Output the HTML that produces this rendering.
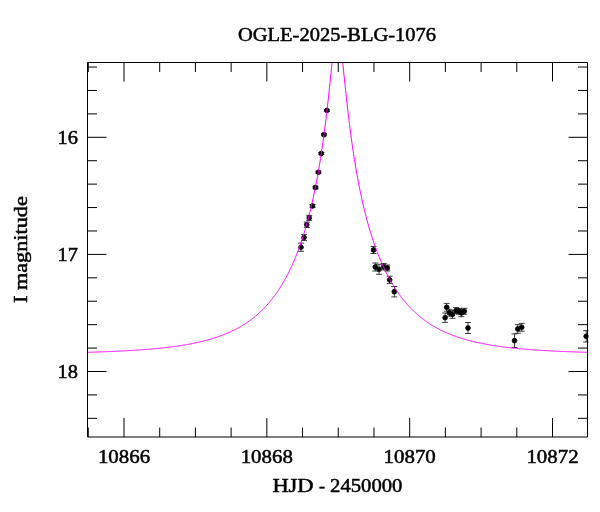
<!DOCTYPE html>
<html><head><meta charset="utf-8"><title>OGLE-2025-BLG-1076</title>
<style>
html,body{margin:0;padding:0;background:#fff;}
svg{display:block;will-change:transform;}
text{font-family:"Liberation Serif",serif;font-size:19.4px;fill:#000;stroke:#000;stroke-width:0.5px;}
</style></head><body>
<svg width="600" height="512" viewBox="0 0 600 512">
<rect width="600" height="512" fill="#fff"/>
<defs><clipPath id="c"><rect x="87.5" y="62.5" width="501.0" height="374.5"/></clipPath></defs>
<g clip-path="url(#c)">
<g stroke="#000" stroke-width="0.75" fill="#000">
<path d="M326.9,109.4V111.4M323.9,109.4h6M323.9,111.4h6"/><circle cx="326.9" cy="110.4" r="2.4"/>
<path d="M324.0,133.7V135.7M321.0,133.7h6M321.0,135.7h6"/><circle cx="324.0" cy="134.7" r="2.4"/>
<path d="M321.3,152.5V154.5M318.3,152.5h6M318.3,154.5h6"/><circle cx="321.3" cy="153.5" r="2.4"/>
<path d="M318.4,171.1V173.5M315.4,171.1h6M315.4,173.5h6"/><circle cx="318.4" cy="172.3" r="2.4"/>
<path d="M315.5,186.3V188.7M312.5,186.3h6M312.5,188.7h6"/><circle cx="315.5" cy="187.5" r="2.4"/>
<path d="M312.5,204.5V207.5M309.5,204.5h6M309.5,207.5h6"/><circle cx="312.5" cy="206.0" r="2.4"/>
<path d="M309.2,215.3V220.3M306.2,215.3h6M306.2,220.3h6"/><circle cx="309.2" cy="217.8" r="2.4"/>
<path d="M306.8,222.1V227.5M303.8,222.1h6M303.8,227.5h6"/><circle cx="306.8" cy="224.8" r="2.4"/>
<path d="M304.0,234.4V240.6M301.0,234.4h6M301.0,240.6h6"/><circle cx="304.0" cy="237.5" r="2.4"/>
<path d="M301.0,243.1V251.3M298.0,243.1h6M298.0,251.3h6"/><circle cx="301.0" cy="247.2" r="2.4"/>
<path d="M373.5,246.5V253.5M370.5,246.5h6M370.5,253.5h6"/><circle cx="373.5" cy="250.0" r="2.4"/>
<path d="M375.3,263.0V271.0M372.3,263.0h6M372.3,271.0h6"/><circle cx="375.3" cy="267.0" r="2.4"/>
<path d="M379.0,264.3V274.3M376.0,264.3h6M376.0,274.3h6"/><circle cx="379.0" cy="269.3" r="2.4"/>
<path d="M383.7,263.5V269.9M380.7,263.5h6M380.7,269.9h6"/><circle cx="383.7" cy="266.7" r="2.4"/>
<path d="M387.3,265.0V271.0M384.3,265.0h6M384.3,271.0h6"/><circle cx="387.3" cy="268.0" r="2.4"/>
<path d="M389.7,276.2V283.6M386.7,276.2h6M386.7,283.6h6"/><circle cx="389.7" cy="279.9" r="2.4"/>
<path d="M394.3,286.5V296.9M391.3,286.5h6M391.3,296.9h6"/><circle cx="394.3" cy="291.7" r="2.4"/>
<path d="M446.7,303.4V311.2M443.7,303.4h6M443.7,311.2h6"/><circle cx="446.7" cy="307.3" r="2.4"/>
<path d="M445.1,313.0V322.4M442.1,313.0h6M442.1,322.4h6"/><circle cx="445.1" cy="317.7" r="2.4"/>
<path d="M449.3,309.2V316.2M446.3,309.2h6M446.3,316.2h6"/><circle cx="449.3" cy="312.7" r="2.4"/>
<path d="M452.5,310.3V318.3M449.5,310.3h6M449.5,318.3h6"/><circle cx="452.5" cy="314.3" r="2.4"/>
<path d="M456.0,307.6V313.6M453.0,307.6h6M453.0,313.6h6"/><circle cx="456.0" cy="310.6" r="2.4"/>
<path d="M459.0,308.3V314.3M456.0,308.3h6M456.0,314.3h6"/><circle cx="459.0" cy="311.3" r="2.4"/>
<path d="M461.3,309.3V316.7M458.3,309.3h6M458.3,316.7h6"/><circle cx="461.3" cy="313.0" r="2.4"/>
<path d="M464.3,308.3V314.3M461.3,308.3h6M461.3,314.3h6"/><circle cx="464.3" cy="311.3" r="2.4"/>
<path d="M468.0,322.5V333.5M465.0,322.5h6M465.0,333.5h6"/><circle cx="468.0" cy="328.0" r="2.4"/>
<path d="M514.5,333.9V347.5M511.5,333.9h6M511.5,347.5h6"/><circle cx="514.5" cy="340.7" r="2.4"/>
<path d="M517.8,324.7V333.3M514.8,324.7h6M514.8,333.3h6"/><circle cx="517.8" cy="329.0" r="2.4"/>
<path d="M521.7,323.4V331.2M518.7,323.4h6M518.7,331.2h6"/><circle cx="521.7" cy="327.3" r="2.4"/>
<path d="M586.2,330.6V342.0M583.2,330.6h6M583.2,342.0h6"/><circle cx="586.2" cy="336.3" r="2.4"/>
</g>
<path d="M87.5,352.3 L88.0,352.3 L88.5,352.3 L89.0,352.3 L89.5,352.3 L90.0,352.2 L90.5,352.2 L91.0,352.2 L91.5,352.2 L92.0,352.2 L92.5,352.2 L93.0,352.2 L93.5,352.1 L94.0,352.1 L94.5,352.1 L95.0,352.1 L95.5,352.1 L96.0,352.1 L96.5,352.0 L97.0,352.0 L97.5,352.0 L98.0,352.0 L98.5,352.0 L99.0,352.0 L99.5,351.9 L100.0,351.9 L100.5,351.9 L101.0,351.9 L101.5,351.9 L102.0,351.9 L102.5,351.8 L103.0,351.8 L103.5,351.8 L104.0,351.8 L104.5,351.8 L105.0,351.7 L105.5,351.7 L106.0,351.7 L106.5,351.7 L107.0,351.7 L107.5,351.6 L108.0,351.6 L108.5,351.6 L109.0,351.6 L109.5,351.6 L110.0,351.5 L110.5,351.5 L111.0,351.5 L111.5,351.5 L112.0,351.5 L112.5,351.4 L113.0,351.4 L113.5,351.4 L114.0,351.4 L114.5,351.3 L115.0,351.3 L115.5,351.3 L116.0,351.3 L116.5,351.3 L117.0,351.2 L117.5,351.2 L118.0,351.2 L118.5,351.2 L119.0,351.1 L119.5,351.1 L120.0,351.1 L120.5,351.1 L121.0,351.0 L121.5,351.0 L122.0,351.0 L122.5,351.0 L123.0,350.9 L123.5,350.9 L124.0,350.9 L124.5,350.9 L125.0,350.8 L125.5,350.8 L126.0,350.8 L126.5,350.8 L127.0,350.7 L127.5,350.7 L128.0,350.7 L128.5,350.6 L129.0,350.6 L129.5,350.6 L130.0,350.6 L130.5,350.5 L131.0,350.5 L131.5,350.5 L132.0,350.4 L132.5,350.4 L133.0,350.4 L133.5,350.3 L134.0,350.3 L134.5,350.3 L135.0,350.2 L135.5,350.2 L136.0,350.2 L136.5,350.1 L137.0,350.1 L137.5,350.1 L138.0,350.0 L138.5,350.0 L139.0,350.0 L139.5,349.9 L140.0,349.9 L140.5,349.9 L141.0,349.8 L141.5,349.8 L142.0,349.8 L142.5,349.7 L143.0,349.7 L143.5,349.7 L144.0,349.6 L144.5,349.6 L145.0,349.5 L145.5,349.5 L146.0,349.5 L146.5,349.4 L147.0,349.4 L147.5,349.3 L148.0,349.3 L148.5,349.3 L149.0,349.2 L149.5,349.2 L150.0,349.1 L150.5,349.1 L151.0,349.1 L151.5,349.0 L152.0,349.0 L152.5,348.9 L153.0,348.9 L153.5,348.8 L154.0,348.8 L154.5,348.7 L155.0,348.7 L155.5,348.6 L156.0,348.6 L156.5,348.6 L157.0,348.5 L157.5,348.5 L158.0,348.4 L158.5,348.4 L159.0,348.3 L159.5,348.3 L160.0,348.2 L160.5,348.2 L161.0,348.1 L161.5,348.0 L162.0,348.0 L162.5,347.9 L163.0,347.9 L163.5,347.8 L164.0,347.8 L164.5,347.7 L165.0,347.7 L165.5,347.6 L166.0,347.5 L166.5,347.5 L167.0,347.4 L167.5,347.4 L168.0,347.3 L168.5,347.3 L169.0,347.2 L169.5,347.1 L170.0,347.1 L170.5,347.0 L171.0,346.9 L171.5,346.9 L172.0,346.8 L172.5,346.7 L173.0,346.7 L173.5,346.6 L174.0,346.5 L174.5,346.5 L175.0,346.4 L175.5,346.3 L176.0,346.3 L176.5,346.2 L177.0,346.1 L177.5,346.1 L178.0,346.0 L178.5,345.9 L179.0,345.8 L179.5,345.8 L180.0,345.7 L180.5,345.6 L181.0,345.5 L181.5,345.5 L182.0,345.4 L182.5,345.3 L183.0,345.2 L183.5,345.1 L184.0,345.0 L184.5,345.0 L185.0,344.9 L185.5,344.8 L186.0,344.7 L186.5,344.6 L187.0,344.5 L187.5,344.4 L188.0,344.4 L188.5,344.3 L189.0,344.2 L189.5,344.1 L190.0,344.0 L190.5,343.9 L191.0,343.8 L191.5,343.7 L192.0,343.6 L192.5,343.5 L193.0,343.4 L193.5,343.3 L194.0,343.2 L194.5,343.1 L195.0,343.0 L195.5,342.9 L196.0,342.8 L196.5,342.7 L197.0,342.6 L197.5,342.5 L198.0,342.3 L198.5,342.2 L199.0,342.1 L199.5,342.0 L200.0,341.9 L200.5,341.8 L201.0,341.7 L201.5,341.5 L202.0,341.4 L202.5,341.3 L203.0,341.2 L203.5,341.0 L204.0,340.9 L204.5,340.8 L205.0,340.7 L205.5,340.5 L206.0,340.4 L206.5,340.3 L207.0,340.1 L207.5,340.0 L208.0,339.9 L208.5,339.7 L209.0,339.6 L209.5,339.4 L210.0,339.3 L210.5,339.2 L211.0,339.0 L211.5,338.9 L212.0,338.7 L212.5,338.6 L213.0,338.4 L213.5,338.2 L214.0,338.1 L214.5,337.9 L215.0,337.8 L215.5,337.6 L216.0,337.4 L216.5,337.3 L217.0,337.1 L217.5,336.9 L218.0,336.8 L218.5,336.6 L219.0,336.4 L219.5,336.2 L220.0,336.1 L220.5,335.9 L221.0,335.7 L221.5,335.5 L222.0,335.3 L222.5,335.1 L223.0,334.9 L223.5,334.8 L224.0,334.6 L224.5,334.4 L225.0,334.2 L225.5,334.0 L226.0,333.7 L226.5,333.5 L227.0,333.3 L227.5,333.1 L228.0,332.9 L228.5,332.7 L229.0,332.5 L229.5,332.2 L230.0,332.0 L230.5,331.8 L231.0,331.6 L231.5,331.3 L232.0,331.1 L232.5,330.8 L233.0,330.6 L233.5,330.4 L234.0,330.1 L234.5,329.9 L235.0,329.6 L235.5,329.4 L236.0,329.1 L236.5,328.8 L237.0,328.6 L237.5,328.3 L238.0,328.0 L238.5,327.8 L239.0,327.5 L239.5,327.2 L240.0,326.9 L240.5,326.6 L241.0,326.3 L241.5,326.0 L242.0,325.7 L242.5,325.4 L243.0,325.1 L243.5,324.8 L244.0,324.5 L244.5,324.2 L245.0,323.9 L245.5,323.5 L246.0,323.2 L246.5,322.9 L247.0,322.6 L247.5,322.2 L248.0,321.9 L248.5,321.5 L249.0,321.2 L249.5,320.8 L250.0,320.4 L250.5,320.1 L251.0,319.7 L251.5,319.3 L252.0,319.0 L252.5,318.6 L253.0,318.2 L253.5,317.8 L254.0,317.4 L254.5,317.0 L255.0,316.6 L255.5,316.2 L256.0,315.7 L256.5,315.3 L257.0,314.9 L257.5,314.5 L258.0,314.0 L258.5,313.6 L259.0,313.1 L259.5,312.7 L260.0,312.2 L260.5,311.7 L261.0,311.3 L261.5,310.8 L262.0,310.3 L262.5,309.8 L263.0,309.3 L263.5,308.8 L264.0,308.3 L264.5,307.8 L265.0,307.2 L265.5,306.7 L266.0,306.2 L266.5,305.6 L267.0,305.1 L267.5,304.5 L268.0,303.9 L268.5,303.4 L269.0,302.8 L269.5,302.2 L270.0,301.6 L270.5,301.0 L271.0,300.4 L271.5,299.8 L272.0,299.1 L272.5,298.5 L273.0,297.8 L273.5,297.2 L274.0,296.5 L274.5,295.8 L275.0,295.2 L275.5,294.5 L276.0,293.8 L276.5,293.1 L277.0,292.4 L277.5,291.6 L278.0,290.9 L278.5,290.1 L279.0,289.4 L279.5,288.6 L280.0,287.8 L280.5,287.0 L281.0,286.2 L281.5,285.4 L282.0,284.6 L282.5,283.8 L283.0,282.9 L283.5,282.1 L284.0,281.2 L284.5,280.3 L285.0,279.4 L285.5,278.5 L286.0,277.6 L286.5,276.7 L287.0,275.7 L287.5,274.7 L288.0,273.8 L288.5,272.8 L289.0,271.8 L289.5,270.8 L290.0,269.7 L290.5,268.7 L291.0,267.6 L291.5,266.5 L292.0,265.4 L292.5,264.3 L293.0,263.2 L293.5,262.1 L294.0,260.9 L294.5,259.7 L295.0,258.5 L295.5,257.3 L296.0,256.1 L296.5,254.8 L297.0,253.5 L297.5,252.2 L298.0,250.9 L298.5,249.6 L299.0,248.2 L299.5,246.8 L300.0,245.4 L300.5,244.0 L301.0,242.5 L301.5,241.1 L302.0,239.6 L302.5,238.0 L303.0,236.5 L303.5,234.9 L304.0,233.3 L304.5,231.7 L305.0,230.0 L305.5,228.3 L306.0,226.6 L306.5,224.8 L307.0,223.0 L307.5,221.2 L308.0,219.4 L308.5,217.5 L309.0,215.6 L309.5,213.6 L310.0,211.6 L310.5,209.6 L311.0,207.5 L311.5,205.4 L312.0,203.2 L312.5,201.0 L313.0,198.8 L313.5,196.5 L314.0,194.1 L314.5,191.8 L315.0,189.3 L315.5,186.8 L316.0,184.3 L316.5,181.7 L317.0,179.0 L317.5,176.3 L318.0,173.5 L318.5,170.7 L319.0,167.8 L319.5,164.8 L320.0,161.7 L320.5,158.6 L321.0,155.4 L321.5,152.1 L322.0,148.8 L322.5,145.3 L323.0,141.8 L323.5,138.2 L324.0,134.5 L324.5,130.7 L325.0,126.8 L325.5,122.8 L326.0,118.8 L326.5,114.6 L327.0,110.3 L327.5,105.9 L328.0,101.5 L328.5,96.9 L329.0,92.3 L329.5,87.5 L330.0,82.8 L330.5,77.9 L331.0,73.1 L331.5,68.2 L332.0,63.4 L332.5,58.7 L333.0,54.1 L333.5,49.7 L334.0,45.5 L334.5,41.7 L335.0,38.2 L335.5,35.3 L336.0,33.0 L336.5,31.3 L337.0,30.4 L337.5,30.1 L338.0,30.7 L338.5,31.9 L339.0,33.9 L339.5,36.4 L340.0,39.6 L340.5,43.1 L341.0,47.1 L341.5,51.4 L342.0,55.9 L342.5,60.6 L343.0,65.3 L343.5,70.2 L344.0,75.0 L344.5,79.9 L345.0,84.7 L345.5,89.4 L346.0,94.1 L346.5,98.7 L347.0,103.3 L347.5,107.7 L348.0,112.0 L348.5,116.3 L349.0,120.4 L349.5,124.4 L350.0,128.4 L350.5,132.2 L351.0,136.0 L351.5,139.7 L352.0,143.2 L352.5,146.7 L353.0,150.1 L353.5,153.5 L354.0,156.7 L354.5,159.9 L355.0,163.0 L355.5,166.0 L356.0,168.9 L356.5,171.8 L357.0,174.6 L357.5,177.4 L358.0,180.1 L358.5,182.7 L359.0,185.3 L359.5,187.8 L360.0,190.3 L360.5,192.7 L361.0,195.1 L361.5,197.4 L362.0,199.7 L362.5,201.9 L363.0,204.1 L363.5,206.2 L364.0,208.3 L364.5,210.4 L365.0,212.4 L365.5,214.4 L366.0,216.3 L366.5,218.2 L367.0,220.1 L367.5,222.0 L368.0,223.8 L368.5,225.5 L369.0,227.3 L369.5,229.0 L370.0,230.7 L370.5,232.3 L371.0,233.9 L371.5,235.5 L372.0,237.1 L372.5,238.6 L373.0,240.2 L373.5,241.6 L374.0,243.1 L374.5,244.6 L375.0,246.0 L375.5,247.4 L376.0,248.7 L376.5,250.1 L377.0,251.4 L377.5,252.7 L378.0,254.0 L378.5,255.3 L379.0,256.5 L379.5,257.8 L380.0,259.0 L380.5,260.2 L381.0,261.4 L381.5,262.5 L382.0,263.7 L382.5,264.8 L383.0,265.9 L383.5,267.0 L384.0,268.0 L384.5,269.1 L385.0,270.1 L385.5,271.2 L386.0,272.2 L386.5,273.2 L387.0,274.2 L387.5,275.1 L388.0,276.1 L388.5,277.0 L389.0,278.0 L389.5,278.9 L390.0,279.8 L390.5,280.7 L391.0,281.5 L391.5,282.4 L392.0,283.3 L392.5,284.1 L393.0,284.9 L393.5,285.8 L394.0,286.6 L394.5,287.4 L395.0,288.1 L395.5,288.9 L396.0,289.7 L396.5,290.4 L397.0,291.2 L397.5,291.9 L398.0,292.6 L398.5,293.4 L399.0,294.1 L399.5,294.8 L400.0,295.4 L400.5,296.1 L401.0,296.8 L401.5,297.4 L402.0,298.1 L402.5,298.7 L403.0,299.4 L403.5,300.0 L404.0,300.6 L404.5,301.2 L405.0,301.8 L405.5,302.4 L406.0,303.0 L406.5,303.6 L407.0,304.2 L407.5,304.7 L408.0,305.3 L408.5,305.8 L409.0,306.4 L409.5,306.9 L410.0,307.4 L410.5,308.0 L411.0,308.5 L411.5,309.0 L412.0,309.5 L412.5,310.0 L413.0,310.5 L413.5,311.0 L414.0,311.4 L414.5,311.9 L415.0,312.4 L415.5,312.8 L416.0,313.3 L416.5,313.7 L417.0,314.2 L417.5,314.6 L418.0,315.1 L418.5,315.5 L419.0,315.9 L419.5,316.3 L420.0,316.7 L420.5,317.1 L421.0,317.5 L421.5,317.9 L422.0,318.3 L422.5,318.7 L423.0,319.1 L423.5,319.5 L424.0,319.9 L424.5,320.2 L425.0,320.6 L425.5,320.9 L426.0,321.3 L426.5,321.7 L427.0,322.0 L427.5,322.3 L428.0,322.7 L428.5,323.0 L429.0,323.4 L429.5,323.7 L430.0,324.0 L430.5,324.3 L431.0,324.6 L431.5,324.9 L432.0,325.3 L432.5,325.6 L433.0,325.9 L433.5,326.2 L434.0,326.5 L434.5,326.7 L435.0,327.0 L435.5,327.3 L436.0,327.6 L436.5,327.9 L437.0,328.1 L437.5,328.4 L438.0,328.7 L438.5,328.9 L439.0,329.2 L439.5,329.5 L440.0,329.7 L440.5,330.0 L441.0,330.2 L441.5,330.5 L442.0,330.7 L442.5,330.9 L443.0,331.2 L443.5,331.4 L444.0,331.7 L444.5,331.9 L445.0,332.1 L445.5,332.3 L446.0,332.6 L446.5,332.8 L447.0,333.0 L447.5,333.2 L448.0,333.4 L448.5,333.6 L449.0,333.8 L449.5,334.0 L450.0,334.2 L450.5,334.4 L451.0,334.6 L451.5,334.8 L452.0,335.0 L452.5,335.2 L453.0,335.4 L453.5,335.6 L454.0,335.8 L454.5,336.0 L455.0,336.1 L455.5,336.3 L456.0,336.5 L456.5,336.7 L457.0,336.8 L457.5,337.0 L458.0,337.2 L458.5,337.3 L459.0,337.5 L459.5,337.7 L460.0,337.8 L460.5,338.0 L461.0,338.2 L461.5,338.3 L462.0,338.5 L462.5,338.6 L463.0,338.8 L463.5,338.9 L464.0,339.1 L464.5,339.2 L465.0,339.4 L465.5,339.5 L466.0,339.6 L466.5,339.8 L467.0,339.9 L467.5,340.1 L468.0,340.2 L468.5,340.3 L469.0,340.5 L469.5,340.6 L470.0,340.7 L470.5,340.8 L471.0,341.0 L471.5,341.1 L472.0,341.2 L472.5,341.3 L473.0,341.5 L473.5,341.6 L474.0,341.7 L474.5,341.8 L475.0,341.9 L475.5,342.1 L476.0,342.2 L476.5,342.3 L477.0,342.4 L477.5,342.5 L478.0,342.6 L478.5,342.7 L479.0,342.8 L479.5,342.9 L480.0,343.0 L480.5,343.1 L481.0,343.2 L481.5,343.3 L482.0,343.4 L482.5,343.5 L483.0,343.6 L483.5,343.7 L484.0,343.8 L484.5,343.9 L485.0,344.0 L485.5,344.1 L486.0,344.2 L486.5,344.3 L487.0,344.4 L487.5,344.5 L488.0,344.6 L488.5,344.7 L489.0,344.7 L489.5,344.8 L490.0,344.9 L490.5,345.0 L491.0,345.1 L491.5,345.2 L492.0,345.2 L492.5,345.3 L493.0,345.4 L493.5,345.5 L494.0,345.6 L494.5,345.6 L495.0,345.7 L495.5,345.8 L496.0,345.9 L496.5,345.9 L497.0,346.0 L497.5,346.1 L498.0,346.2 L498.5,346.2 L499.0,346.3 L499.5,346.4 L500.0,346.4 L500.5,346.5 L501.0,346.6 L501.5,346.6 L502.0,346.7 L502.5,346.8 L503.0,346.8 L503.5,346.9 L504.0,347.0 L504.5,347.0 L505.0,347.1 L505.5,347.2 L506.0,347.2 L506.5,347.3 L507.0,347.3 L507.5,347.4 L508.0,347.5 L508.5,347.5 L509.0,347.6 L509.5,347.6 L510.0,347.7 L510.5,347.7 L511.0,347.8 L511.5,347.9 L512.0,347.9 L512.5,348.0 L513.0,348.0 L513.5,348.1 L514.0,348.1 L514.5,348.2 L515.0,348.2 L515.5,348.3 L516.0,348.3 L516.5,348.4 L517.0,348.4 L517.5,348.5 L518.0,348.5 L518.5,348.6 L519.0,348.6 L519.5,348.7 L520.0,348.7 L520.5,348.8 L521.0,348.8 L521.5,348.8 L522.0,348.9 L522.5,348.9 L523.0,349.0 L523.5,349.0 L524.0,349.1 L524.5,349.1 L525.0,349.2 L525.5,349.2 L526.0,349.2 L526.5,349.3 L527.0,349.3 L527.5,349.4 L528.0,349.4 L528.5,349.4 L529.0,349.5 L529.5,349.5 L530.0,349.6 L530.5,349.6 L531.0,349.6 L531.5,349.7 L532.0,349.7 L532.5,349.7 L533.0,349.8 L533.5,349.8 L534.0,349.9 L534.5,349.9 L535.0,349.9 L535.5,350.0 L536.0,350.0 L536.5,350.0 L537.0,350.1 L537.5,350.1 L538.0,350.1 L538.5,350.2 L539.0,350.2 L539.5,350.2 L540.0,350.3 L540.5,350.3 L541.0,350.3 L541.5,350.4 L542.0,350.4 L542.5,350.4 L543.0,350.4 L543.5,350.5 L544.0,350.5 L544.5,350.5 L545.0,350.6 L545.5,350.6 L546.0,350.6 L546.5,350.7 L547.0,350.7 L547.5,350.7 L548.0,350.7 L548.5,350.8 L549.0,350.8 L549.5,350.8 L550.0,350.8 L550.5,350.9 L551.0,350.9 L551.5,350.9 L552.0,351.0 L552.5,351.0 L553.0,351.0 L553.5,351.0 L554.0,351.1 L554.5,351.1 L555.0,351.1 L555.5,351.1 L556.0,351.1 L556.5,351.2 L557.0,351.2 L557.5,351.2 L558.0,351.2 L558.5,351.3 L559.0,351.3 L559.5,351.3 L560.0,351.3 L560.5,351.4 L561.0,351.4 L561.5,351.4 L562.0,351.4 L562.5,351.4 L563.0,351.5 L563.5,351.5 L564.0,351.5 L564.5,351.5 L565.0,351.6 L565.5,351.6 L566.0,351.6 L566.5,351.6 L567.0,351.6 L567.5,351.7 L568.0,351.7 L568.5,351.7 L569.0,351.7 L569.5,351.7 L570.0,351.7 L570.5,351.8 L571.0,351.8 L571.5,351.8 L572.0,351.8 L572.5,351.8 L573.0,351.9 L573.5,351.9 L574.0,351.9 L574.5,351.9 L575.0,351.9 L575.5,351.9 L576.0,352.0 L576.5,352.0 L577.0,352.0 L577.5,352.0 L578.0,352.0 L578.5,352.0 L579.0,352.1 L579.5,352.1 L580.0,352.1 L580.5,352.1 L581.0,352.1 L581.5,352.1 L582.0,352.2 L582.5,352.2 L583.0,352.2 L583.5,352.2 L584.0,352.2 L584.5,352.2 L585.0,352.3 L585.5,352.3 L586.0,352.3 L586.5,352.3 L587.0,352.3 L587.5,352.3" fill="none" stroke="#ff00ff" stroke-width="1.0"/>
</g>
<path d="M88.29,437.0v-9.5M88.29,62.5v9.5M124.00,437.0v-19M124.00,62.5v19M159.71,437.0v-9.5M159.71,62.5v9.5M195.42,437.0v-9.5M195.42,62.5v9.5M231.13,437.0v-9.5M231.13,62.5v9.5M266.84,437.0v-19M266.84,62.5v19M302.55,437.0v-9.5M302.55,62.5v9.5M338.26,437.0v-9.5M338.26,62.5v9.5M373.97,437.0v-9.5M373.97,62.5v9.5M409.68,437.0v-19M409.68,62.5v19M445.39,437.0v-9.5M445.39,62.5v9.5M481.10,437.0v-9.5M481.10,62.5v9.5M516.81,437.0v-9.5M516.81,62.5v9.5M552.52,437.0v-19M552.52,62.5v19M87.5,67.04h9.5M587.5,67.04h-9.5M87.5,90.46h9.5M587.5,90.46h-9.5M87.5,113.88h9.5M587.5,113.88h-9.5M87.5,137.30h19M587.5,137.30h-19M87.5,160.72h9.5M587.5,160.72h-9.5M87.5,184.14h9.5M587.5,184.14h-9.5M87.5,207.56h9.5M587.5,207.56h-9.5M87.5,230.98h9.5M587.5,230.98h-9.5M87.5,254.40h19M587.5,254.40h-19M87.5,277.82h9.5M587.5,277.82h-9.5M87.5,301.24h9.5M587.5,301.24h-9.5M87.5,324.66h9.5M587.5,324.66h-9.5M87.5,348.08h9.5M587.5,348.08h-9.5M87.5,371.50h19M587.5,371.50h-19M87.5,394.92h9.5M587.5,394.92h-9.5M87.5,418.34h9.5M587.5,418.34h-9.5" stroke="#000" stroke-width="1" fill="none"/>
<path d="M87.5,62.5H587.5V437.0H87.5Z" stroke="#000" stroke-width="1" fill="none"/>
<text x="337" y="40.5" text-anchor="middle" textLength="198" lengthAdjust="spacingAndGlyphs">OGLE-2025-BLG-1076</text>
<text x="124.0" y="462.6" text-anchor="middle" textLength="52.2" lengthAdjust="spacingAndGlyphs">10866</text>
<text x="266.8" y="462.6" text-anchor="middle" textLength="52.2" lengthAdjust="spacingAndGlyphs">10868</text>
<text x="409.7" y="462.6" text-anchor="middle" textLength="52.2" lengthAdjust="spacingAndGlyphs">10870</text>
<text x="552.5" y="462.6" text-anchor="middle" textLength="52.2" lengthAdjust="spacingAndGlyphs">10872</text>
<text x="78" y="144.2" text-anchor="end" textLength="20.4" lengthAdjust="spacingAndGlyphs">16</text>
<text x="78" y="261.2" text-anchor="end" textLength="20.4" lengthAdjust="spacingAndGlyphs">17</text>
<text x="78" y="378.2" text-anchor="end" textLength="20.4" lengthAdjust="spacingAndGlyphs">18</text>
<text x="272.4" y="491.7" textLength="41.2" lengthAdjust="spacingAndGlyphs">HJD</text>
<text x="319" y="491.7" textLength="6" lengthAdjust="spacingAndGlyphs">-</text>
<text x="330.1" y="491.7" textLength="72.3" lengthAdjust="spacingAndGlyphs">2450000</text>
<text transform="translate(27.0,303.0) rotate(-90)" textLength="106.8" lengthAdjust="spacingAndGlyphs">I magnitude</text>
</svg>
</body></html>
